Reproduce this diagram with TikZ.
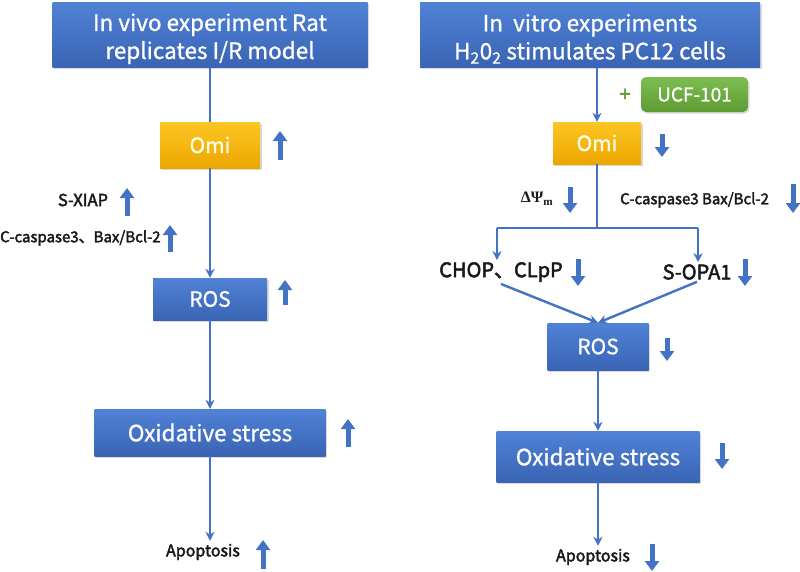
\documentclass[tikz,border=0pt]{standalone}
\usepackage{fontspec}
\setmainfont{Noto Sans CJK SC}
\newfontfamily\medf[FakeBold=2.5]{Noto Sans CJK SC}
\newfontfamily\boxf[FakeBold=1]{Noto Sans CJK SC}
\newfontfamily\serifb{Liberation Serif}
\usetikzlibrary{arrows.meta,shadows}
\definecolor{arrblue}{HTML}{4472C4}
\definecolor{boxtop}{HTML}{5082D6}
\definecolor{boxbot}{HTML}{3A64B4}
\definecolor{omitop}{HTML}{FCC623}
\definecolor{omibot}{HTML}{EDA600}
\definecolor{grtop}{HTML}{7DBD50}
\definecolor{grbot}{HTML}{5C9C33}
\newcommand{\fs}[1]{\fontsize{#1}{#1}\selectfont}
\tikzset{
  boxbase/.style={draw=none, inner sep=0pt, align=center,
    drop shadow={opacity=0.3, shadow xshift=1.5pt, shadow yshift=-1.5pt}},
  bluebox/.style={boxbase, top color=boxtop, bottom color=boxbot, text=white},
  omibox/.style={boxbase, top color=omitop, bottom color=omibot, text=white!92!yellow},
  greenbox/.style={boxbase, top color=grtop, bottom color=grbot, text=white, rounded corners=5pt},
  lbl/.style={inner sep=3pt, text=black!90},
  conn/.style={draw=arrblue, line width=2.4pt},
  connarr/.style={conn, -{Stealth[length=9pt,width=9pt]}},
  blk/.style={draw=arrblue, line width=5pt, -{Triangle[width=14pt,length=10pt]}},
}
\begin{document}
\begin{tikzpicture}[x=1pt,y=-1pt]
\useasboundingbox (0,0) rectangle (800,571);
% ---------- left column ----------
\node[bluebox, minimum width=315pt, minimum height=65pt, font=\boxf\fontsize{22.5}{28}\selectfont] (hl) at (210,34.5)
  {\rule{0pt}{26pt}In vivo experiment Rat\\replicates I/R model};
\node[omibox, minimum width=100pt, minimum height=46pt, font=\boxf\fs{21}] (omil) at (210,145) {Omi};
\node[bluebox, minimum width=114pt, minimum height=42pt, font=\boxf\fs{21}] (rosl) at (210,299) {ROS};
\node[bluebox, minimum width=231pt, minimum height=47pt, font=\boxf\fs{22.5}] (oxl) at (210,432.5) {Oxidative stress};
\node[lbl, font=\medf\fs{16}] (apl) at (203,552) {Apoptosis};
\node[lbl, font=\medf\fs{16.5}] (sxiap) at (83,200) {S-XIAP};
\node[lbl, font=\medf\fs{15}, anchor=west, inner sep=0pt] (ccl) at (0,238) {C-caspase3、Bax/Bcl-2};
\draw[conn] (hl.south) -- (omil.north);
\draw[connarr] (omil.south) -- (rosl.north);
\draw[connarr] (rosl.south) -- (oxl.north);
\draw[connarr] (oxl.south) -- (oxl.south |- apl.north);
% indicators left
\draw[blk] (280,160) -- (280,131);
\draw[blk] (127,216) -- (127,188);
\draw[blk] (170,252) -- (170,225);
\draw[blk] (285,305) -- (285,280);
\draw[blk] (348,447) -- (348,419);
\draw[blk] (263,569) -- (263,540);
% ---------- right column ----------
\node[bluebox, minimum width=340pt, minimum height=65pt, font=\boxf\fontsize{22.5}{28}\selectfont] (hr) at (590,34.5)
  {\rule{0pt}{26pt}In\ \ vitro experiments\\H\textsubscript{2}0\textsubscript{2} stimulates PC12 cells};
\node[greenbox, minimum width=107pt, minimum height=35pt, font=\boxf\fs{19}] (ucf) at (694.5,94.5) {UCF-101};
\node[lbl, font=\medf\fs{20}, text={rgb,255:red,92;green,156;blue,51}] (plus) at (625,95) {+};
\node[omibox, minimum width=88pt, minimum height=42pt, font=\boxf\fs{21}] (omir) at (597,143) {Omi};
\node[lbl, font=\fs{16}] (dpsi) at (537,199) {\serifb\bfseries ΔΨ\textsubscript{m}};
\node[lbl, font=\medf\fs{15}, anchor=west, inner sep=0pt] (ccr) at (620,200) {C-caspase3 Bax/Bcl-2};
\coordinate (j) at (597,228);
\coordinate (jl) at (497,228);
\coordinate (jr) at (698,228);
\node[lbl, font=\medf\fs{20}, inner sep=2pt] (chop) at (501,272) {CHOP、CLpP};
\node[lbl, font=\medf\fs{20}, inner sep=2pt] (sopa) at (697,272) {S-OPA1};
\node[bluebox, minimum width=101pt, minimum height=47pt, font=\boxf\fs{21}] (rosr) at (598,346.5) {ROS};
\node[bluebox, minimum width=203pt, minimum height=51pt, font=\boxf\fs{22.5}] (oxr) at (598,456.5) {Oxidative stress};
\node[lbl, font=\medf\fs{16}] (apr) at (593,557) {Apoptosis};
\draw[connarr] (hr.south -| omir.north) -- (omir.north);
\draw[conn] (omir.south) -- (j);
\draw[conn] (jl) -- (jr);
\draw[connarr] (jl) -- (chop.north -| jl);
\draw[connarr] (jr) -- (sopa.north -| jr);
\draw[connarr] (chop.south) -- (rosr.north);
\draw[connarr] (sopa.south) -- (rosr.north);
\draw[connarr] (rosr.south) -- (oxr.north);
\draw[connarr] (oxr.south) -- (oxr.south |- apr.north);
% indicators right
\draw[blk] (662,134) -- (662,157);
\draw[blk] (570,187) -- (570,213);
\draw[blk] (793,184) -- (793,213);
\draw[blk] (578,259) -- (578,286);
\draw[blk] (745,259) -- (745,286);
\draw[blk] (667,338) -- (667,361);
\draw[blk] (722,443) -- (722,469);
\draw[blk] (652,544) -- (652,571);
\end{tikzpicture}
\end{document}
